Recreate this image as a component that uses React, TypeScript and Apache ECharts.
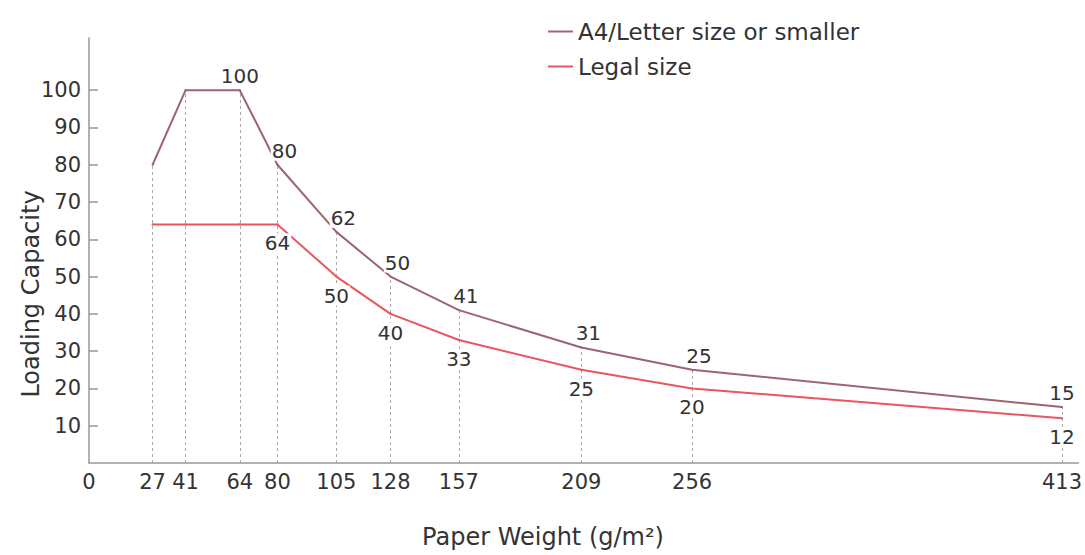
import React, { useEffect, useRef } from "react";
import * as echarts from "echarts";

const weights = [27, 41, 64, 80, 105, 128, 157, 209, 256, 413];
const a4Capacity = [80, 100, 100, 80, 62, 50, 41, 31, 25, 15];
const legalCapacity = [64, 64, 64, 64, 50, 40, 33, 25, 20, 12];
const yTicks = [10, 20, 30, 40, 50, 60, 70, 80, 90, 100];
const xTicks = [0, ...weights];
const a4Hidden = [0, 1];
const legalHidden = [0, 1, 2];

const FONT = "DejaVu Sans";
const TEXT = "#333333";
const A4_COLOR = "#9c6670";
const LEGAL_COLOR = "#ea5560";

export default function App() {
  const ref = useRef<HTMLDivElement>(null);
  useEffect(() => {
    if (!ref.current) return;
    const chart = echarts.init(ref.current, null, { renderer: "svg" });
    const labelBase = {
      fontFamily: FONT,
      fontSize: 20,
      color: TEXT,
      backgroundColor: "#ffffff",
      padding: [0, 1],
    };
    const lastIdx = weights.length - 1;
    chart.setOption({
      animation: false,
      backgroundColor: "#ffffff",
      textStyle: { fontFamily: FONT },
      grid: { left: 89, right: 0, top: 38, bottom: 92, containLabel: false },
      legend: {
        orient: "vertical",
        left: 543,
        top: 15,
        itemWidth: 25,
        itemHeight: 2,
        itemGap: 12,
        icon: "rect",
        textStyle: { fontFamily: FONT, fontSize: 23, color: TEXT, padding: [0, 0, 0, 0] },
        data: [
          { name: "A4/Letter size or smaller", itemStyle: { color: A4_COLOR } },
          { name: "Legal size", itemStyle: { color: LEGAL_COLOR } },
        ],
      },
      xAxis: {
        type: "value",
        min: 0,
        max: 420,
        splitLine: { show: false },
        axisLine: { lineStyle: { color: "#999999", width: 1.5 } },
        axisTick: { show: false },
        axisLabel: {
          customValues: xTicks,
          fontFamily: FONT,
          fontSize: 21,
          color: TEXT,
          margin: 8,
        },
      },
      yAxis: {
        type: "value",
        min: 0,
        max: 114,
        splitLine: { show: false },
        axisLine: { show: true, lineStyle: { color: "#999999", width: 1.5 } },
        axisTick: {
          show: true,
          inside: true,
          length: 9,
          customValues: yTicks,
          lineStyle: { color: "#999999", width: 1.5 },
        },
        axisLabel: {
          customValues: yTicks,
          fontFamily: FONT,
          fontSize: 21,
          color: TEXT,
          margin: 8,
        },
      },
      graphic: [
        {
          type: "text",
          x: 31,
          y: 294,
          rotation: Math.PI / 2,
          style: {
            text: "Loading Capacity",
            fontFamily: FONT,
            fontSize: 24,
            fill: TEXT,
            align: "center",
            verticalAlign: "middle",
          },
        },
        {
          type: "text",
          x: 543,
          y: 537,
          style: {
            text: "Paper Weight (g/m²)",
            fontFamily: FONT,
            fontSize: 24,
            fill: TEXT,
            align: "center",
            verticalAlign: "middle",
          },
        },
      ],
      series: [
        {
          name: "A4/Letter size or smaller",
          type: "line",
          z: 3,
          symbol: "circle",
          symbolSize: 2,
          showSymbol: true,
          itemStyle: { color: A4_COLOR },
          lineStyle: { width: 2, color: A4_COLOR },
          data: weights.map((w, i) => ({
            value: [w, a4Capacity[i]],
            label: {
              show: !a4Hidden.includes(i),
              position: "top",
              distance: 3,
              offset: [i === lastIdx || i === 2 ? 0 : 7, 0],
              ...labelBase,
            },
          })),
          markLine: {
            silent: true,
            symbol: ["none", "none"],
            label: { show: false },
            z: 1,
            lineStyle: { color: "#aaaaaa", width: 1, type: [3, 3] },
            data: weights.map((w, i) => [
              { coord: [w, 0] },
              { coord: [w, a4Capacity[i]] },
            ]),
          },
        },
        {
          name: "Legal size",
          type: "line",
          z: 4,
          symbol: "circle",
          symbolSize: 2,
          showSymbol: true,
          itemStyle: { color: LEGAL_COLOR },
          lineStyle: { width: 2, color: LEGAL_COLOR },
          data: weights.map((w, i) => ({
            value: [w, legalCapacity[i]],
            label: {
              show: !legalHidden.includes(i),
              position: "bottom",
              distance: 8,
              ...labelBase,
            },
          })),
        },
      ],
    });
    return () => chart.dispose();
  }, []);
  return (
    <div
      ref={ref}
      style={{ position: "fixed", left: 0, top: 0, width: 1085, height: 555 }}
    />
  );
}
